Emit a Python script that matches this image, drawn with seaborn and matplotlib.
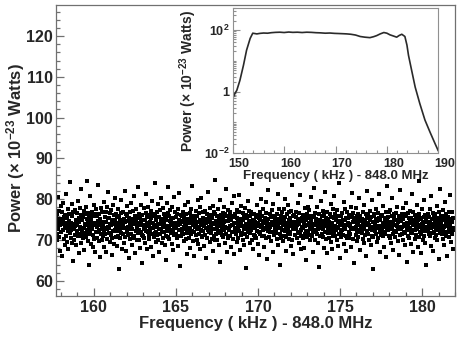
import numpy as np
import pandas as pd
import matplotlib
matplotlib.use("Agg")
import matplotlib.pyplot as plt
import matplotlib.transforms as mtransforms
import seaborn as sns
from matplotlib.ticker import MultipleLocator, FixedLocator, FixedFormatter, LogLocator, NullFormatter

# ---------------- data ----------------
freq_start = 157.70      # kHz offset of first bin
freq_step = 0.0202       # kHz per bin

power = [
    73.2, 75.8, 71.4, 69.9, 76.3, 74.1, 72.7, 80.6, 70.8, 74.9, 77.2, 67.3, 73.6, 75.1, 72.0, 78.4, 71.9, 74.5, 66.1, 76.8,
    72.4, 74.8, 79.1, 70.3, 73.9, 75.6, 68.7, 72.9, 76.1, 74.2, 71.1, 81.3, 73.4, 69.6, 75.3, 72.2, 77.7, 67.8, 74.6, 73.0,
    76.5, 71.7, 73.8, 84.3, 70.6, 74.3, 72.5, 78.9, 69.2, 75.9, 73.1, 64.9, 76.9, 72.8, 74.0, 70.1, 77.4, 73.5, 71.3, 75.0,
    68.9, 74.7, 72.3, 76.6, 73.7, 70.9, 79.5, 71.6, 75.4, 74.4, 66.8, 72.6, 77.9, 73.3, 69.4, 76.2, 82.6, 71.0, 74.9, 72.1,
    75.7, 73.0, 70.4, 77.1, 72.9, 67.6, 74.0, 76.4, 71.8, 73.6, 78.2, 70.7, 75.2, 84.5, 72.4, 69.8, 74.6, 76.7, 63.9, 73.1,
    71.5, 76.0, 73.9, 72.2, 80.9, 74.8, 69.1, 75.5, 72.7, 77.0, 73.4, 68.4, 75.8, 71.2, 74.3, 78.6, 70.2, 73.7, 67.1, 76.3,
    74.1, 72.0, 77.6, 70.5, 73.3, 75.9, 71.9, 83.5, 74.7, 69.7, 76.5, 72.5, 73.8, 65.8, 75.1, 71.4, 77.8, 74.2, 70.0, 72.8,
    76.8, 73.5, 70.9, 74.4, 79.3, 72.1, 68.2, 75.6, 73.0, 71.6, 76.9, 74.5, 67.0, 72.6, 78.1, 70.3, 75.3, 81.7, 73.2, 71.8,
    72.9, 75.4, 69.5, 74.0, 76.7, 71.3, 73.6, 77.3, 70.6, 74.8, 66.4, 75.0, 72.3, 78.7, 73.9, 69.0, 76.1, 72.4, 80.2, 74.6,
    70.7, 73.1, 76.4, 72.2, 68.6, 75.7, 74.3, 71.0, 77.5, 73.4, 62.8, 75.9, 72.7, 74.9, 70.4, 76.6, 79.8, 71.7, 73.8, 67.9,
    74.2, 77.0, 71.5, 73.7, 75.2, 69.3, 72.9, 82.1, 74.5, 70.8, 76.3, 73.0, 67.4, 75.8, 72.1, 78.3, 71.2, 74.7, 73.3, 65.5,
    75.5, 72.6, 70.2, 76.8, 74.1, 73.5, 79.0, 71.6, 68.8, 75.1, 72.8, 77.2, 74.4, 70.5, 80.8, 73.9, 71.1, 76.0, 66.9, 74.0,
    72.3, 74.9, 77.7, 69.9, 73.2, 75.6, 71.8, 74.3, 83.0, 72.5, 76.4, 70.1, 73.6, 68.1, 75.3, 78.5, 72.0, 74.6, 71.3, 64.3,
    76.2, 73.8, 71.0, 75.0, 72.7, 77.9, 70.6, 74.8, 73.1, 69.4, 76.7, 81.2, 72.2, 74.1, 67.7, 75.7, 73.4, 71.9, 78.0, 70.3,
    73.5, 70.9, 76.1, 74.5, 72.4, 68.3, 75.4, 77.1, 71.4, 73.0, 79.6, 74.2, 72.9, 66.2, 76.5, 70.7, 73.7, 75.9, 84.0, 71.7,
    74.8, 72.1, 69.6, 75.3, 73.3, 76.9, 71.2, 74.0, 78.8, 70.0, 72.6, 75.6, 67.2, 73.9, 77.4, 71.5, 74.7, 80.4, 72.8, 69.2,
    71.9, 75.1, 73.6, 77.8, 70.4, 74.4, 72.0, 76.3, 68.9, 73.2, 75.8, 65.1, 74.9, 71.1, 79.2, 73.5, 72.3, 76.6, 70.8, 82.9,
    76.0, 73.1, 70.2, 74.6, 72.5, 77.3, 71.7, 75.2, 73.8, 69.0, 74.1, 78.2, 72.2, 67.5, 75.5, 73.0, 80.5, 71.3, 74.3, 76.8,
    73.4, 71.6, 75.7, 72.9, 76.5, 70.5, 74.2, 73.7, 68.5, 77.6, 72.4, 75.0, 81.6, 71.0, 73.9, 63.6, 76.2, 74.7, 70.9, 72.7,
    75.9, 72.0, 74.5, 77.0, 71.4, 73.3, 69.8, 75.4, 72.6, 78.6, 74.0, 70.3, 76.4, 73.6, 66.7, 71.8, 74.8, 79.4, 72.1, 75.2,
    70.6, 74.3, 72.8, 76.7, 73.0, 68.0, 75.6, 71.5, 77.5, 74.6, 72.3, 83.2, 73.8, 69.7, 76.0, 71.9, 74.1, 66.0, 75.3, 73.2,
    74.9, 77.2, 71.2, 73.5, 75.8, 70.1, 72.7, 79.9, 74.4, 69.1, 76.6, 73.1, 71.6, 75.0, 67.9, 78.1, 72.4, 74.0, 80.3, 71.0,
    73.7, 70.8, 75.5, 72.2, 76.9, 74.7, 68.6, 73.4, 77.1, 71.3, 75.1, 72.9, 65.6, 74.2, 70.4, 76.3, 73.0, 81.9, 72.5, 74.8,
    72.0, 75.7, 73.3, 69.5, 74.5, 77.9, 71.7, 76.1, 73.6, 70.2, 75.4, 72.6, 78.4, 67.3, 74.1, 71.1, 76.8, 73.9, 69.9, 84.7,
    76.4, 72.8, 74.6, 71.4, 73.1, 75.9, 70.0, 77.6, 72.3, 74.3, 68.8, 75.2, 73.5, 79.7, 71.8, 64.6, 76.2, 72.1, 74.9, 73.0,
    71.2, 74.0, 76.7, 73.7, 70.7, 75.3, 72.5, 78.0, 74.4, 69.3, 73.2, 76.5, 82.4, 71.6, 74.6, 67.0, 75.8, 72.9, 70.5, 77.3,
    74.7, 72.4, 75.0, 70.9, 77.0, 73.4, 71.0, 74.8, 68.4, 76.0, 73.8, 72.0, 79.1, 75.6, 70.3, 73.6, 66.5, 74.2, 80.7, 71.9,
    73.0, 76.3, 71.5, 74.1, 72.7, 75.5, 69.6, 77.4, 73.1, 70.6, 74.5, 76.9, 72.2, 81.0, 67.6, 75.1, 73.9, 71.3, 78.3, 74.3,
    75.2, 71.8, 73.5, 76.6, 70.0, 74.9, 72.6, 68.7, 75.7, 73.3, 77.8, 71.4, 74.0, 63.2, 76.1, 72.8, 70.8, 75.4, 73.7, 79.5,
    72.1, 74.6, 77.1, 73.0, 69.4, 75.9, 71.7, 74.3, 72.4, 76.8, 70.1, 83.8, 73.6, 75.0, 67.8, 72.9, 74.7, 71.2, 76.4, 73.2,
    74.4, 71.0, 75.6, 73.8, 70.5, 76.2, 72.3, 78.7, 74.1, 69.0, 73.4, 75.3, 72.0, 66.3, 77.0, 74.8, 71.6, 80.1, 73.1, 75.8,
    70.9, 73.7, 76.0, 72.5, 74.6, 77.7, 71.1, 73.0, 68.2, 75.5, 72.8, 74.2, 79.3, 70.4, 76.7, 73.5, 65.3, 74.9, 72.2, 82.3,
    75.1, 72.7, 74.0, 70.7, 76.5, 73.2, 71.9, 75.7, 73.9, 69.8, 77.3, 72.1, 74.5, 78.9, 67.1, 73.6, 75.9, 71.3, 74.3, 72.6,
    73.3, 75.4, 71.7, 74.8, 72.0, 76.3, 70.2, 73.5, 81.4, 74.0, 68.9, 75.2, 72.9, 77.6, 71.5, 74.6, 64.0, 76.0, 73.0, 70.6,
    76.9, 74.2, 72.4, 75.0, 69.7, 73.8, 77.5, 71.0, 74.7, 72.3, 75.6, 80.0, 70.8, 73.1, 67.4, 76.4, 72.7, 74.1, 71.8, 78.5,
    72.5, 70.3, 74.9, 76.8, 73.4, 71.4, 75.3, 72.1, 68.5, 74.4, 77.2, 73.7, 70.0, 83.6, 75.8, 72.8, 66.6, 74.0, 76.1, 73.3,
    74.5, 73.0, 71.2, 75.7, 72.6, 77.0, 70.6, 74.3, 73.6, 79.0, 71.7, 75.1, 69.2, 73.9, 76.6, 72.0, 81.1, 74.8, 67.7, 72.4,
    71.1, 75.5, 73.2, 74.7, 76.2, 70.4, 72.9, 75.9, 68.1, 74.2, 73.5, 77.8, 71.6, 74.9, 65.0, 72.2, 76.3, 73.8, 70.7, 78.2,
    75.8, 72.3, 74.1, 71.3, 77.4, 73.1, 69.9, 75.3, 72.8, 74.6, 80.6, 70.9, 76.0, 73.4, 67.2, 74.0, 71.9, 75.6, 72.5, 82.8,
    73.6, 76.7, 70.1, 74.4, 72.0, 75.2, 71.5, 78.1, 73.7, 69.4, 74.8, 72.7, 76.5, 63.4, 73.0, 75.0, 71.0, 74.3, 79.6, 72.9,
    74.0, 71.4, 75.9, 73.3, 77.1, 70.8, 72.6, 74.7, 68.0, 76.1, 73.9, 72.1, 81.8, 75.4, 70.3, 73.5, 66.9, 74.2, 76.8, 71.7,
    72.8, 75.1, 73.6, 70.5, 74.5, 76.4, 71.8, 73.0, 78.8, 69.5, 75.7, 72.3, 74.1, 67.9, 77.5, 73.2, 70.9, 75.3, 80.9, 72.0,
    76.3, 73.4, 71.1, 74.8, 72.5, 75.6, 70.0, 77.3, 73.1, 74.4, 68.6, 72.9, 76.0, 84.1, 71.4, 74.6, 65.7, 73.7, 75.8, 72.2,
    70.7, 74.3, 76.6, 72.4, 73.8, 71.2, 75.0, 79.4, 73.3, 69.1, 74.9, 72.7, 77.6, 71.0, 75.5, 67.3, 73.6, 76.9, 70.4, 74.1,
    73.9, 75.3, 72.1, 70.6, 76.2, 74.0, 71.5, 73.5, 78.0, 72.8, 68.4, 75.7, 73.0, 81.5, 74.5, 70.2, 76.7, 64.4, 72.6, 75.1,
    75.4, 72.9, 74.6, 77.9, 71.3, 73.2, 69.8, 75.8, 72.2, 74.2, 76.5, 70.8, 73.7, 80.3, 71.9, 74.8, 67.5, 72.5, 75.9, 73.4,
    72.0, 74.7, 71.7, 75.2, 73.1, 76.8, 70.3, 74.4, 72.6, 78.6, 69.3, 75.0, 73.8, 71.2, 76.3, 66.1, 74.1, 72.3, 82.0, 75.6,
    74.3, 71.6, 76.1, 73.6, 70.0, 75.4, 72.7, 77.2, 74.9, 68.7, 73.3, 75.7, 71.1, 79.8, 72.4, 74.5, 70.7, 63.0, 76.4, 73.0,
    76.0, 73.7, 72.2, 74.0, 77.7, 71.4, 75.1, 73.2, 69.6, 74.6, 72.9, 76.6, 70.5, 81.2, 73.5, 75.3, 67.0, 72.1, 74.8, 71.8,
    71.3, 75.9, 73.4, 72.5, 76.2, 70.9, 74.2, 78.4, 72.0, 73.9, 68.3, 75.5, 71.6, 74.7, 77.0, 73.1, 65.9, 75.2, 72.8, 83.3,
    73.8, 72.4, 75.6, 71.0, 74.1, 76.9, 73.0, 70.4, 77.4, 74.5, 72.6, 69.2, 75.8, 73.3, 80.4, 71.5, 74.3, 67.6, 76.5, 72.2,
    75.3, 73.6, 70.8, 74.9, 72.3, 76.7, 71.9, 75.0, 73.5, 78.2, 69.7, 74.4, 72.8, 76.0, 66.4, 73.1, 71.2, 74.6, 82.2, 75.7,
    72.7, 74.8, 76.4, 71.4, 73.2, 75.1, 70.1, 77.8, 73.9, 72.0, 74.0, 68.8, 75.9, 71.7, 79.1, 73.4, 76.3, 64.7, 72.5, 74.2,
    76.6, 71.1, 73.7, 75.4, 72.9, 70.6, 74.7, 73.0, 77.1, 72.1, 69.0, 75.5, 74.3, 81.3, 71.8, 73.6, 76.8, 67.1, 72.4, 75.0,
    74.6, 72.5, 70.2, 76.1, 73.4, 75.8, 71.3, 74.0, 78.5, 72.8, 74.9, 68.2, 73.1, 76.4, 70.7, 84.4, 72.0, 75.3, 73.8, 66.8,
    71.6, 75.2, 73.9, 72.6, 77.5, 74.1, 70.0, 73.5, 75.6, 72.2, 79.7, 71.0, 74.5, 69.4, 76.2, 73.0, 63.8, 74.8, 72.7, 76.0,
    73.1, 76.5, 72.3, 74.4, 71.5, 75.7, 73.6, 70.9, 77.6, 74.2, 72.9, 80.8, 68.5, 75.1, 73.3, 71.8, 76.7, 74.0, 67.4, 72.1,
    75.8, 73.2, 74.7, 70.5, 76.3, 72.4, 74.9, 71.2, 73.7, 78.3, 69.9, 75.4, 72.8, 74.3, 65.4, 76.9, 73.0, 71.7, 82.5, 74.6,
    72.2, 74.0, 76.0, 73.5, 71.4, 75.0, 72.6, 77.3, 70.3, 74.8, 73.1, 68.9, 75.9, 72.0, 79.4, 74.2, 71.0, 76.4, 66.0, 73.6,
    74.9, 71.9, 73.4, 75.6, 72.7, 76.8, 70.7, 74.1, 73.8, 81.0, 72.3, 75.2, 69.5, 74.5, 77.0, 71.6, 73.0, 67.8, 75.5, 72.5,
]

inset_freq = [150.0, 150.4, 150.8, 151.4, 152.1, 152.7, 153.4, 153.9, 154.3, 154.7,
              155.3, 156.0, 156.8, 157.5, 158.3, 159.2, 160.0, 160.9, 161.7, 162.6,
              163.5, 164.4, 165.3, 166.2, 167.1, 168.0, 168.9, 169.8, 170.7, 171.5,
              172.2, 173.0, 173.9, 174.8, 175.7, 176.7, 177.4, 178.0, 178.7, 179.4,
              180.0, 180.6, 181.3, 181.9, 182.4, 182.9, 183.5, 183.9, 184.2, 184.8,
              185.5, 186.4, 187.4, 188.4, 189.4, 190.0]
inset_power = [0.59, 0.85, 1.1, 2.3, 7.2, 22, 53, 78, 76, 74,
               77, 79, 78, 81, 83, 84, 82, 85, 83, 84,
               82, 84, 83, 81, 80, 78, 79, 77, 76, 75,
               74, 72, 68, 61, 58, 56, 60, 65, 74, 82,
               78, 69, 63, 58, 66, 72, 61, 32, 15, 5,
               1.4, 0.41, 0.12, 0.048, 0.020, 0.012]

main_xticks = [160, 165, 170, 175, 180]
main_yticks = [60, 70, 80, 90, 100, 110, 120]
inset_xticks = [150, 160, 170, 180, 190]
inset_yticks = [0.01, 1, 100]
inset_ytick_labels = [r"10$^{-2}$", "1", r"10$^{2}$"]

xlabel_text = "Frequency ( kHz ) - 848.0 MHz"
ylabel_text = r"Power (× 10$^{-23}$ Watts)"

# ---------------- style ----------------
sns.set_theme(style="ticks")
plt.rcParams['font.family'] = ['Liberation Sans', 'DejaVu Sans']
plt.rcParams['font.weight'] = 'bold'
plt.rcParams['mathtext.fontset'] = 'custom'
plt.rcParams['mathtext.rm'] = 'Liberation Sans:bold'
plt.rcParams['mathtext.bf'] = 'Liberation Sans:bold'
plt.rcParams['mathtext.it'] = 'Liberation Sans:bold:italic'
plt.rcParams['mathtext.default'] = 'rm'

frame_main = '#707070'
frame_inset = '#909090'

W, H = 463, 338
fig = plt.figure(figsize=(W / 100, H / 100), dpi=100)
fig.patch.set_facecolor('white')

# ---------------- main axes ----------------
ax = fig.add_axes([56 / W, 1 - 296 / H, (455 - 56) / W, (296 - 5) / H])
df = pd.DataFrame({'freq': freq_start + freq_step * np.arange(len(power)),
                   'power': power})
sns.scatterplot(data=df, x='freq', y='power', ax=ax, marker='s', s=7.5,
                color='black', linewidth=0, legend=False)
ax.set_xlim(157.7, 182.0)
ax.set_ylim(56.3, 127.6)
ax.xaxis.set_major_locator(FixedLocator(main_xticks))
ax.yaxis.set_major_locator(FixedLocator(main_yticks))
ax.xaxis.set_minor_locator(MultipleLocator(1))
ax.yaxis.set_minor_locator(MultipleLocator(2))
ax.tick_params(which='both', direction='in', color=frame_main, width=0.9,
               top=False, right=False)
ax.tick_params(which='major', length=6, labelsize=11.5)
ax.tick_params(which='minor', length=3.2)
ax.tick_params(axis='x', which='major', pad=3)
ax.tick_params(axis='y', which='major', pad=2)
for lab in ax.get_xticklabels() + ax.get_yticklabels():
    lab.set_fontweight('bold')
for sp in ax.spines.values():
    sp.set_color(frame_main)
    sp.set_linewidth(0.9)
ax.set_xlabel(xlabel_text, fontsize=12, fontweight='bold')
ax.set_ylabel(ylabel_text, fontsize=12, fontweight='bold')
ax.xaxis.set_label_coords(0.5, -0.07)
ax.yaxis.set_label_coords(-0.072, 0.507)

# ---------------- inset axes ----------------
axi = fig.add_axes([232.7 / W, 1 - 153.3 / H, (438.3 - 232.7) / W, (153.3 - 8.3) / H])
axi.set_facecolor('white')
sns.lineplot(x=inset_freq, y=inset_power, ax=axi, color='#2a2a2a', linewidth=1.2)
axi.set_yscale('log')
axi.set_xlim(150, 190)
axi.set_ylim(0.01, 500)
axi.xaxis.set_major_locator(FixedLocator(inset_xticks))
axi.xaxis.set_minor_locator(MultipleLocator(2))
axi.yaxis.set_major_locator(FixedLocator(inset_yticks))
axi.yaxis.set_major_formatter(FixedFormatter(inset_ytick_labels))
axi.yaxis.set_minor_locator(LogLocator(base=10, subs=np.arange(1, 10), numticks=50))
axi.yaxis.set_minor_formatter(NullFormatter())
axi.tick_params(which='both', direction='in', color=frame_inset, width=0.8,
                top=False, right=False)
axi.tick_params(which='major', length=5, labelsize=9)
axi.tick_params(which='minor', length=2.5)
axi.tick_params(axis='x', which='major', pad=3.2)
axi.tick_params(axis='y', which='major', pad=2.5)
shift = mtransforms.ScaledTranslation(6.5 / 100, 0, fig.dpi_scale_trans)
for lab in axi.get_xticklabels():
    lab.set_transform(lab.get_transform() + shift)
for lab in axi.get_xticklabels() + axi.get_yticklabels():
    lab.set_fontweight('bold')
for sp in axi.spines.values():
    sp.set_color(frame_inset)
    sp.set_linewidth(0.8)
axi.set_xlabel(xlabel_text, fontsize=9.5, fontweight='bold')
axi.set_ylabel(ylabel_text, fontsize=10, fontweight='bold')
axi.xaxis.set_label_coords(0.5, -0.115)
axi.yaxis.set_label_coords(-0.165, 0.5)

fig.savefig('out.png', dpi=100)
